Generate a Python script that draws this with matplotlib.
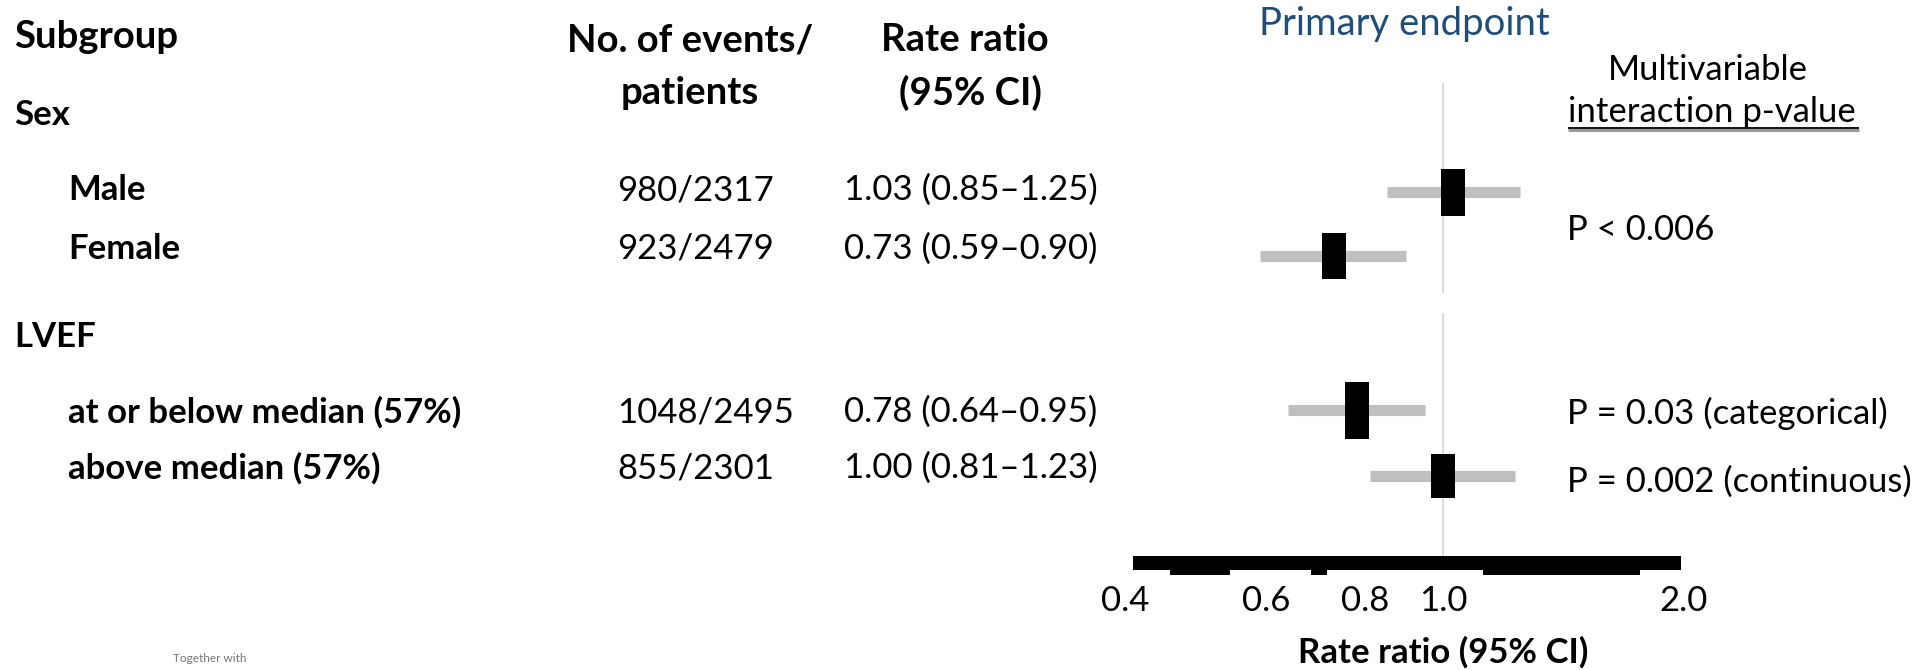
import numpy as np
import matplotlib
matplotlib.use("Agg")
from matplotlib import pyplot as plt
from matplotlib.patches import Rectangle

# data
sex_groups = ['Male', 'Female']
lvef_groups = ['at or below median (57%)', 'above median (57%)']
events = ['980/2317', '923/2479', '1048/2495', '855/2301']
rr = [1.03, 0.73, 0.78, 1.00]
rr_lo = [0.85, 0.59, 0.64, 0.81]
rr_hi = [1.25, 0.90, 0.95, 1.23]
p_values = ['P < 0.006', 'P = 0.03 (categorical)', 'P = 0.002 (continuous)']
xticks = [0.4, 0.6, 0.8, 1.0, 2.0]

# layout (pixel rows, top origin)
W, H = 1932, 670
row_y = [190, 249, 412, 468]
mark_y = [192, 256, 410, 476]
box_h = [47, 46, 57, 44]
box_w = 24
pval_y = [230, 413, 482]
px_per_ln = 347.0

plt.rcParams['font.family'] = ['Lato', 'DejaVu Sans']
fs = 25
fh = 27.5

fig = plt.figure(figsize=(W / 100, H / 100), dpi=100)
ax0 = fig.add_axes([0, 0, 1, 1])
ax0.set_xlim(0, W)
ax0.set_ylim(H, 0)
ax0.axis('off')

def txt(x, y, s, **kw):
    kw.setdefault('fontsize', fs)
    kw.setdefault('va', 'center')
    ax0.text(x, y, s, **kw)

# headers
txt(14, 37, 'Subgroup', fontweight='bold', fontsize=fh)
txt(690, 40, 'No. of events/', fontweight='bold', ha='center', fontsize=fh)
txt(690, 93, 'patients', fontweight='bold', ha='center', fontsize=fh)
txt(965, 40, 'Rate ratio', fontweight='bold', ha='center', fontsize=fh)
txt(970, 93, '(95% CI)', fontweight='bold', ha='center', fontsize=fh)
txt(1259, 24, 'Primary endpoint', color='#1F4E79', fontsize=fh)
txt(1708, 70, 'Multivariable', ha='center')
txt(1712, 112, 'interaction p-value', ha='center')
ax0.plot([1568, 1859], [130, 130], color='#9a9a9a', lw=2.2, solid_capstyle='butt')
ax0.plot([1568, 1859], [128, 128], color='black', lw=1.3, solid_capstyle='butt')

# group labels and rows
txt(14, 115, 'Sex', fontweight='bold')
txt(14, 337, 'LVEF', fontweight='bold')
labels = sex_groups + lvef_groups
for i, lab in enumerate(labels):
    txt(68, row_y[i], lab, fontweight='bold')
    txt(617, row_y[i], events[i])
    txt(844, row_y[i], '%.2f (%.2f\u2013%.2f)' % (rr[i], rr_lo[i], rr_hi[i]))
for p, y in zip(p_values, pval_y):
    txt(1567, y, p)

txt(210, 659, 'Together with', fontsize=8.5, color='#777777', ha='center')

# forest panel, log x, pixel rows
x0 = 1443 - px_per_ln * np.log(1 / 0.4)
x1 = 1443 + px_per_ln * np.log(2.0)
ax = fig.add_axes([x0 / W, 0, (x1 - x0) / W, 1])
ax.set_xscale('log')
ax.set_xlim(0.4, 2.0)
ax.set_ylim(H, 0)
ax.axis('off')

ax.vlines(1.0, 83, 293, color='#d4d4d4', lw=1.2)
ax.vlines(1.0, 313, 556, color='#d4d4d4', lw=1.2)

ax.hlines(mark_y, rr_lo, rr_hi, color='#bfbfbf', lw=8, capstyle='butt')
k = np.exp(box_w / 2 / px_per_ln)
for i in range(len(rr)):
    ax.add_patch(Rectangle((rr[i] / k, mark_y[i] - box_h[i] / 2), rr[i] * (k - 1 / k), box_h[i],
                           facecolor='black', edgecolor='none', zorder=3))

# thick axis bar (with the uneven lower edge of the original)
ax.fill_between([0.409, 1.985], 556, 570, color='black', lw=0)
for a, b in [(0.455, 0.541), (0.684, 0.716), (1.122, 1.764)]:
    ax.fill_between([a, b], 569, 575, color='black', lw=0)

for t in xticks:
    ax.text(t, 601, '%.1f' % t, fontsize=fs, ha='center', va='center', clip_on=False)
ax.text(1.0, 652, 'Rate ratio (95% CI)', fontsize=fs, fontweight='bold', ha='center', va='center')

fig.savefig('out.png', dpi=100)
